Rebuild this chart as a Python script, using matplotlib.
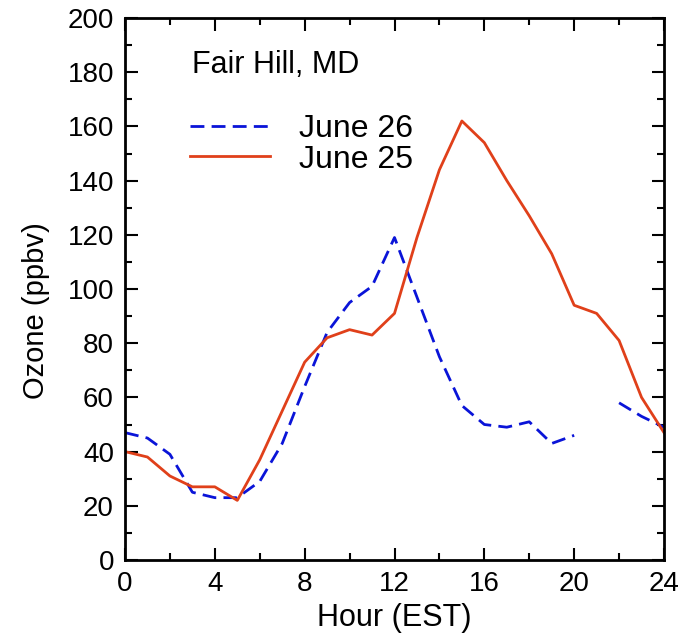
import numpy as np
import matplotlib
matplotlib.use('Agg')
import matplotlib.pyplot as plt
from matplotlib.ticker import MultipleLocator

plt.rcParams['font.family'] = ['Liberation Sans', 'DejaVu Sans']

hours = list(range(25))
# ozone (ppbv)
june25 = [40, 38, 31, 27, 27, 22, 37, 55, 73, 82, 85, 83, 91, 119, 144,
          162, 154, 140, 127, 113, 94, 91, 81, 60, 47]
june26 = [47, 45, 39, 25, 23, 23, 29, 43, 64, 84, 95, 101, 119, 97, 75,
          57, 50, 49, 51, 43, 46, np.nan, 58, 53, 49]

fig = plt.figure(figsize=(6.92, 6.44), dpi=100)
ax = fig.add_axes([125/692, 1 - 560/644, (664-125)/692, (560-18)/644])

ax.plot(hours, june26, color='#0a14d8', lw=2.0, dashes=(5, 2.6), label='June 26')
ax.plot(hours, june25, color='#e0401a', lw=2.0, label='June 25')

ax.set_xlim(0, 24)
ax.set_ylim(0, 200)
ax.xaxis.set_major_locator(MultipleLocator(4))
ax.xaxis.set_minor_locator(MultipleLocator(2))
ax.yaxis.set_major_locator(MultipleLocator(20))
ax.yaxis.set_minor_locator(MultipleLocator(10))
ax.tick_params(which='both', direction='in', top=True, right=True,
               labelsize=20, width=1.5)
ax.tick_params(which='major', length=9, pad=8)
ax.tick_params(which='minor', length=5)
for s in ax.spines.values():
    s.set_linewidth(2)

ax.set_xlabel('Hour (EST)', fontsize=22, labelpad=4)
ax.set_ylabel('Ozone (ppbv)', fontsize=21)
ax.yaxis.set_label_coords(-0.14, 0.46)

ax.text(192/692, 1 - 65/644, 'Fair Hill, MD', transform=fig.transFigure,
        fontsize=22, va='center', ha='left')
ax.legend(loc='upper left', bbox_to_anchor=(190/692, 1 - 114/644),
          bbox_transform=fig.transFigure, frameon=False, fontsize=23,
          handlelength=2.5, handletextpad=0.9, labelspacing=0.02,
          borderpad=0, borderaxespad=0)

fig.savefig('out.png', dpi=100)
